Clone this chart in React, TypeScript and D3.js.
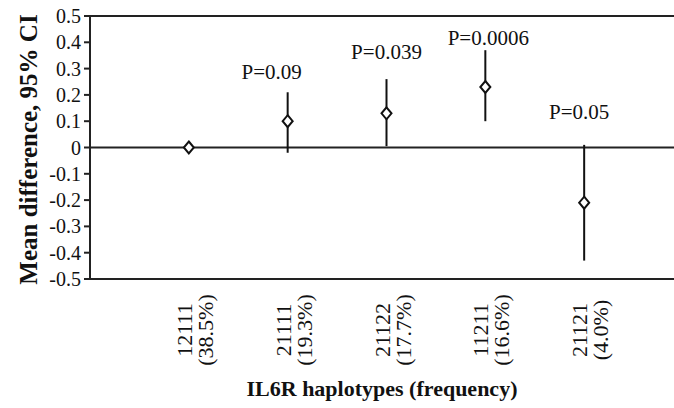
import React from "react";
import * as d3 from "d3";

const categories = ["12111", "21111", "21122", "11211", "21121"];
const frequencies = ["(38.5%)", "(19.3%)", "(17.7%)", "(16.6%)", "(4.0%)"];
const means = [0, 0.1, 0.13, 0.23, -0.21];
const lower = [0, -0.02, 0.005, 0.1, -0.43];
const upper = [0, 0.21, 0.26, 0.37, 0.01];
const pLabels = ["", "P=0.09", "P=0.039", "P=0.0006", "P=0.05"];
const pLabelValues = [0, 0.262, 0.338, 0.39, 0.11];
const yTicks = [0.5, 0.4, 0.3, 0.2, 0.1, 0, -0.1, -0.2, -0.3, -0.4, -0.5];
const yTickLabels = ["0.5", "0.4", "0.3", "0.2", "0.1", "0", "-0.1", "-0.2", "-0.3", "-0.4", "-0.5"];

const W = 674;
const H = 408;
const left = 90;
const right = 674;
const top = 16;
const bottom = 279;
const serif = "'Liberation Serif', 'Times New Roman', serif";
const labelDx = [0, -16, 0, 3, -5];

export default function App() {
  const y = d3.scaleLinear().domain([-0.5, 0.5]).range([bottom, top]);
  const x = d3.scalePoint<string>().domain(categories).range([left, 683]).padding(1);
  const diamond = (cx: number, cy: number) =>
    `M${cx},${cy - 6}L${cx + 5},${cy}L${cx},${cy + 6}L${cx - 5},${cy}Z`;

  return (
    <svg width={W} height={H} style={{ position: "absolute", left: 0, top: 0, background: "#fff" }}>
      <line x1={left} x2={right} y1={y(0.5)} y2={y(0.5)} stroke="#222" strokeWidth={2} />
      <line x1={left} x2={right} y1={y(-0.5)} y2={y(-0.5)} stroke="#222" strokeWidth={2} />
      <line x1={left} x2={right} y1={y(0)} y2={y(0)} stroke="#222" strokeWidth={2} />
      <line x1={left} x2={left} y1={y(0.5)} y2={y(-0.5)} stroke="#222" strokeWidth={2} />
      {yTicks.map((t, i) => (
        <g key={t}>
          <line x1={left - 6} x2={left} y1={y(t)} y2={y(t)} stroke="#222" strokeWidth={2} />
          <text x={left - 9} y={y(t)} dy="0.35em" textAnchor="end" fontFamily={serif} fontSize={20} fill="#111">
            {yTickLabels[i]}
          </text>
        </g>
      ))}
      {categories.map((c, i) => {
        const cx = x(c)!;
        return (
          <g key={c}>
            {upper[i] !== lower[i] && (
              <line x1={cx} x2={cx} y1={y(upper[i])} y2={y(lower[i])} stroke="#111" strokeWidth={2} />
            )}
            <path d={diamond(cx, y(means[i]))} fill="#fff" stroke="#111" strokeWidth={2} />
            {pLabels[i] && (
              <text x={cx + labelDx[i]} y={y(pLabelValues[i])} textAnchor="middle" fontFamily={serif} fontSize={21} fill="#111">
                {pLabels[i]}
              </text>
            )}
            <g transform={`translate(${cx + 7},330) rotate(-90)`}>
              <text x={0} y={-4} textAnchor="middle" fontFamily={serif} fontSize={22} fill="#111">
                {c}
              </text>
              <text x={0} y={17} textAnchor="middle" fontFamily={serif} fontSize={22} fill="#111">
                {frequencies[i]}
              </text>
            </g>
          </g>
        );
      })}
      <text x={382} y={396} textAnchor="middle" fontFamily={serif} fontWeight="bold" fontSize={22} fill="#111">
        IL6R haplotypes (frequency)
      </text>
      <text
        transform={`translate(37,${(top + bottom) / 2 + 2}) rotate(-90)`}
        textAnchor="middle"
        fontFamily={serif}
        fontWeight="bold"
        fontSize={25}
        fill="#111"
      >
        Mean difference, 95% CI
      </text>
    </svg>
  );
}
